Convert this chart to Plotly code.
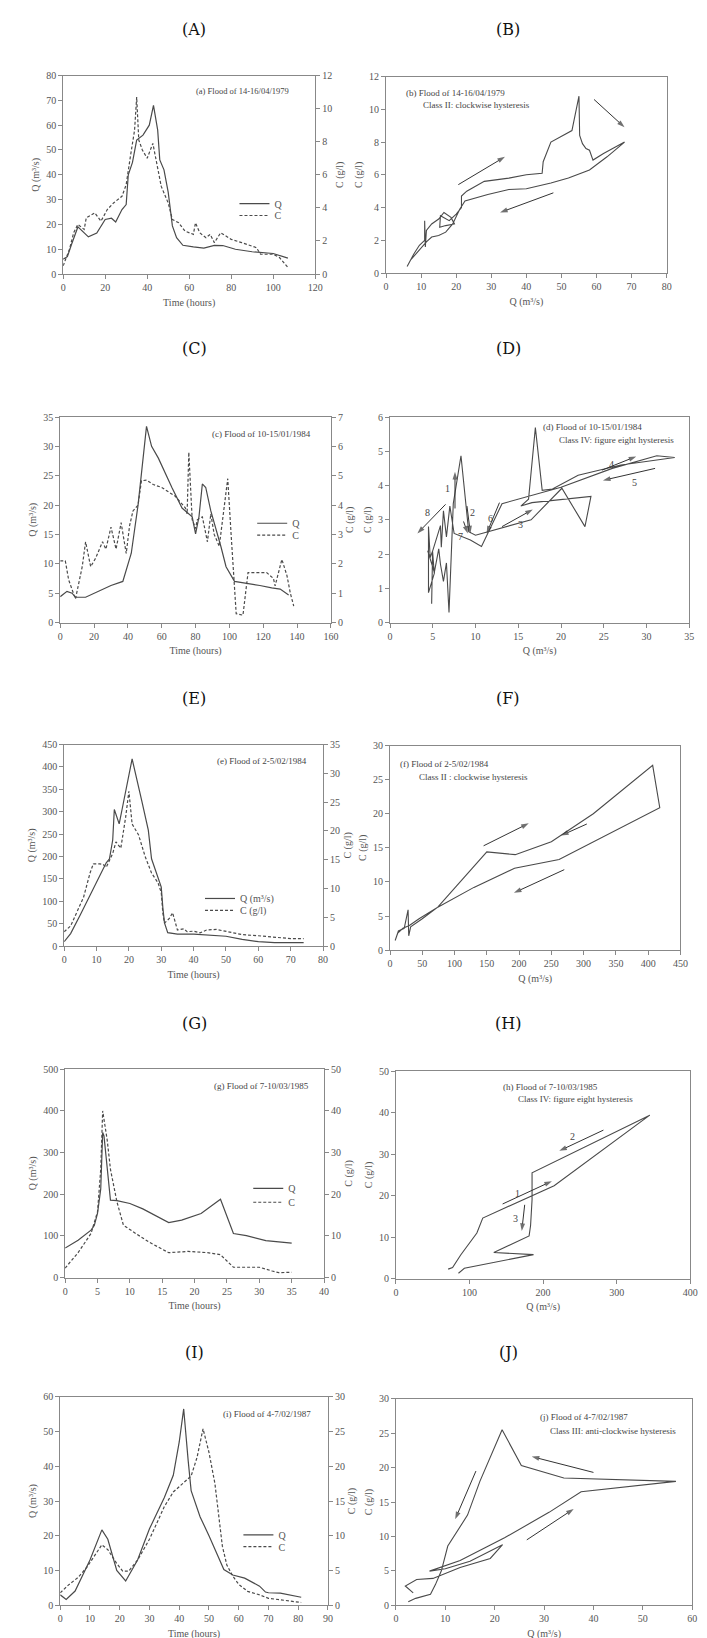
import plotly.graph_objects as go

W, H = 707, 1638
FONT = "Liberation Serif"
TXT = "#555555"
AX = "#888888"
LN = "#4a4a4a"

# ---------------- data ----------------
# (a) flood 14-16/04/1979 : time series
A_TQ = [0, 2, 4, 7, 12, 16, 20, 23, 25, 28, 30, 31, 33, 35, 38, 41, 43, 45, 46, 48, 50, 52, 54, 57, 62, 67, 72, 76, 82, 90, 100, 103, 107]
A_Q = [6, 7, 12, 19, 15, 16.5, 22, 22.5, 21, 26, 28, 40, 45, 54, 56, 60, 68, 58, 46, 42, 33, 19.4, 14.7, 11.6, 11, 10.5, 11.6, 11.5, 10, 9, 8.3, 7.5, 6.4]
A_TC = [0, 3, 5, 7, 10, 11, 15, 18, 21, 24, 28, 30, 32, 34, 35, 36, 37.7, 40, 42.7, 44.7, 46.7, 50, 52, 55, 58, 62, 63, 65, 68, 70, 72, 75, 80, 85, 92, 94, 100, 103, 107]
A_C = [0.5, 1.5, 2.5, 3.0, 2.7, 3.4, 3.7, 3.2, 3.9, 4.3, 4.7, 5.4, 7.1, 8.7, 10.7, 8.1, 7.5, 7.0, 7.9, 6.7, 5.3, 4.3, 3.3, 3.1, 2.6, 2.4, 3.1, 2.5, 2.2, 2.4, 1.9, 2.5, 2.1, 1.9, 1.6, 1.2, 1.2, 1.0, 0.4]
# (b) hysteresis 14-16/04/1979
B_Q = [6, 8, 9.5, 11, 11, 11.2, 11.5, 13, 15, 16.5, 18.5, 19.5, 17, 15.3, 15.5, 18, 20, 21.5, 21.5, 23, 28, 35, 40, 44.5, 44.8, 47, 53, 55, 55.2, 56, 57, 58, 59, 62, 68, 63, 58, 52, 47, 40, 35, 29, 22.5, 21, 19, 17, 15, 13, 11.5, 9, 7]
B_C = [0.4, 1.2, 1.7, 2.0, 3.2, 1.6, 2.6, 3.0, 3.3, 3.7, 3.4, 3.0, 2.9, 2.8, 3.5, 3.2, 3.6, 4.0, 4.7, 5.0, 5.6, 5.8, 6.0, 6.1, 6.8, 8.0, 8.7, 10.8, 8.4, 7.9, 7.6, 7.5, 6.9, 7.3, 8.0, 7.1, 6.3, 5.8, 5.5, 5.15, 5.1, 4.8, 4.4, 3.9, 3.0, 2.5, 2.3, 2.2, 1.9, 1.3, 0.8]
B_ARROWS = [(20.6, 5.4, 33.9, 7.1), (47.7, 4.9, 32.5, 3.7), (59.3, 10.6, 68.0, 8.9)]

# (c) flood 10-15/01/1984 : time series
C_TQ = [0, 4, 7, 9, 15, 20, 30, 37, 40, 42, 46, 51, 54, 58, 66, 72, 78, 80, 82, 84, 86, 89, 95, 98, 103, 110, 118, 125, 130, 135]
C_Q = [4.4, 5.3, 5.0, 4.3, 4.3, 5.0, 6.3, 7.0, 10, 11.8, 20, 33.4, 30, 28, 23, 19.5, 18, 15.1, 18, 23.6, 23, 19, 12.9, 9.5, 7, 6.7, 6.3, 5.9, 5.7, 4.7]
C_TC = [0, 3, 5, 9, 13, 15, 18, 21, 25, 27, 30, 33, 36, 38, 39, 41, 43, 46, 48, 51, 55, 60, 68, 74, 75, 76, 78, 80, 81, 84, 87, 89, 91, 94, 99, 101, 104, 108, 111, 122, 126, 127, 131, 134, 136, 138]
C_C = [2.1, 2.1, 1.45, 0.8, 1.9, 2.75, 1.9, 2.2, 2.75, 2.5, 3.25, 2.5, 3.4, 2.6, 2.35, 3.3, 3.8, 4.0, 4.83, 4.85, 4.7, 4.6, 4.3, 3.9, 3.7, 5.8, 3.5, 3.2, 3.5, 3.6, 2.75, 3.7, 3.0, 2.6, 4.9, 3.0, 0.3, 0.25, 1.7, 1.7, 1.5, 1.25, 2.15, 1.6, 1.0, 0.56]
# (d) hysteresis 10-15/01/1984
D_Q = [4.4, 5.2, 4.5, 4.5, 4.5, 4.7, 5.0, 5.9, 6.0, 6.25, 6.6, 7.0, 7.5, 9.4, 10.7, 13.1, 20.0, 26.0, 31.2, 33.3, 29.5, 27.0, 22.0, 19.0, 17.8, 17.0, 16.2, 15.3, 16.6, 23.5, 22.8, 20.1, 16.5, 10.0, 9.2, 8.3, 7.4, 6.9, 6.6, 6.25, 5.9, 5.7, 5.17, 4.98, 4.87]
D_C = [2.1, 1.45, 0.87, 1.9, 2.8, 1.9, 2.1, 2.83, 2.2, 3.26, 2.5, 3.4, 2.6, 2.41, 2.22, 3.47, 3.95, 4.5, 4.87, 4.82, 4.7, 4.6, 4.3, 3.9, 3.86, 5.69, 3.6, 3.4, 3.5, 3.68, 2.8, 3.92, 3.0, 2.55, 2.65, 4.87, 3.47, 0.29, 1.74, 1.2, 1.7, 2.15, 1.45, 2.07, 0.55]
D_ARROWS = [(7.6, 3.33, 7.6, 4.4), (9.0, 3.4, 9.4, 2.6), (13.1, 2.8, 16.7, 3.3), (24.8, 4.45, 28.8, 4.85),
            (31.0, 4.5, 24.9, 4.15), (12.8, 3.5, 11.3, 2.6), (8.6, 2.95, 9.1, 2.6), (6.5, 3.45, 3.2, 2.6)]
D_LABELS = [("1", 6.7, 3.9), ("2", 9.7, 3.2), ("3", 15.3, 2.85), ("4", 25.9, 4.62), ("5", 28.6, 4.1),
            ("6", 11.8, 3.05), ("7", 8.3, 2.5), ("8", 4.4, 3.2)]

# (e) flood 2-5/02/1984 : time series
E_TQ = [0, 2, 5, 8, 10, 13, 14, 15, 15.5, 17, 18, 21, 24, 26, 27, 30, 30.5, 31, 32, 35, 40, 45, 50, 55, 60, 65, 70, 74]
E_Q = [10, 28, 70, 114, 143, 186, 195, 237, 305, 273, 309, 418, 324, 259, 195, 132, 85, 52, 30, 27, 27, 25, 22, 15, 10, 8, 8, 8]
E_TC = [0, 2, 4, 6, 8, 9, 11, 12, 13, 15, 16, 17.5, 19, 20, 21, 23, 25, 27, 29, 30, 30.5, 31, 32.5, 33.5, 35, 37, 38, 40, 42, 44, 47, 50, 55, 60, 65, 70, 74]
E_C = [2.5, 3.5, 6, 8.5, 12.7, 14.3, 14.3, 14.2, 13.7, 16.1, 18.1, 17.0, 22.4, 26.9, 21.2, 19.3, 15.6, 12.7, 11, 9.3, 5.7, 4.0, 4.8, 5.8, 2.8, 3.0, 2.5, 2.6, 2.3, 2.8, 2.9, 2.6, 2.0, 1.8, 1.6, 1.3, 1.3]
# (f) hysteresis 2-5/02/1984
F_Q = [8, 13, 22, 28, 29, 32, 50, 74, 150, 194, 250, 315, 407, 418, 262, 193, 130, 74, 45, 30, 20, 12, 8]
F_C = [1.4, 2.8, 3.2, 5.9, 2.1, 3.4, 4.6, 6.3, 14.4, 14.0, 15.9, 20.0, 27.1, 20.9, 13.3, 12.0, 9.2, 6.3, 4.6, 3.6, 3.2, 2.5, 1.4]
F_ARROWS = [(145, 15.3, 215, 18.6), (305, 18.5, 265, 16.8), (270, 11.8, 192, 8.4)]

# (g) flood 7-10/03/1985 : time series
G_TQ = [0, 2, 4, 4.5, 5, 5.5, 5.8, 6, 7, 8, 10, 12, 16, 18, 21, 24, 26, 28, 31, 35]
G_Q = [71, 90, 114, 125, 154, 213, 348, 340, 186, 185, 178, 165, 132, 138, 154, 188, 106, 101, 89, 83]
G_TC = [0, 2, 4, 5, 5.5, 5.8, 6.5, 7, 8, 9, 11, 13, 16, 19, 22, 24, 26, 30, 32, 33, 35]
G_C = [2.3, 6, 10.6, 15.8, 26, 40, 33, 26, 18.2, 12.6, 10.5, 8.5, 6.0, 6.3, 6.0, 5.5, 2.5, 2.5, 1.6, 1.2, 1.3]
# (h) hysteresis 7-10/03/1985
H_Q = [71, 77, 88, 100, 110, 118, 215, 345, 185, 185, 183, 181, 133, 187, 110, 93, 85]
H_C = [2.3, 2.7, 5.7, 8.5, 11, 14.6, 22.4, 39.4, 25.5, 19, 12.8, 10.3, 6.3, 5.8, 3.0, 2.5, 1.3]
H_ARROWS = [(145, 18, 212, 23.5), (282, 35.8, 222, 30.8), (175, 17.8, 171, 11.5)]
H_LABELS = [("1", 165, 20.6), ("2", 240, 34.2), ("3", 163, 14.5)]

# (i) flood 4-7/02/1987 : time series
I_TQ = [0, 2, 5, 10, 14, 16, 19, 22, 26, 30, 35, 38, 40, 41.5, 43, 44, 47, 50, 55, 58, 62, 65, 67, 69, 70, 74, 81]
I_Q = [3.0, 1.7, 4.1, 13, 21.7, 19, 10, 7, 13, 22, 31, 37.4, 47, 56.5, 41.7, 33, 25.5, 20, 10.3, 8.7, 7.8, 6.5, 5.5, 3.8, 3.6, 3.5, 2.3]
I_TC = [0, 3, 6, 9, 14, 16, 19, 21, 23, 26, 30, 35, 38, 41, 44, 46, 48, 50, 52, 54.5, 56, 58, 60, 63, 67, 70, 74, 78, 81]
I_C = [1.8, 3.0, 4.0, 5.5, 8.7, 8.0, 6.0, 4.9, 4.9, 6.5, 9.5, 14.2, 16.3, 17.5, 18.6, 21.3, 25.4, 22, 17.5, 8.5, 5.8, 4.2, 3.0, 2.0, 1.5, 1.0, 0.8, 0.5, 0.4]
# (j) hysteresis 4-7/02/1987
J_Q = [3.5, 1.9, 4.2, 7.5, 13, 19.1, 21.6, 15, 10, 6.8, 13, 22, 31, 37.5, 56.7, 41.7, 34, 25.4, 21.5, 17, 14.5, 10.5, 9.2, 8.0, 7.0, 4.0, 2.5]
J_C = [1.8, 2.8, 3.75, 3.9, 5.5, 6.8, 8.8, 6.4, 5.3, 4.96, 6.5, 9.8, 13.5, 16.5, 18.0, 18.3, 18.5, 20.3, 25.5, 18.0, 13.1, 8.6, 5.0, 3.0, 1.6, 1.0, 0.5]
J_ARROWS = [(16.2, 19.5, 12.0, 12.5), (40.0, 19.3, 27.5, 21.6), (26.5, 9.5, 36.0, 14.0)]

HEADERS = ["(A)", "(B)", "(C)", "(D)", "(E)", "(F)", "(G)", "(H)", "(I)", "(J)"]

# ---------------- layout helpers ----------------
def px_x(x):
    return x / W

def px_y(y):
    return 1 - y / H

def ax_name(kind, n):
    return kind + "axis" + ("" if n == 1 else str(n))

def ref(kind, n):
    return kind + ("" if n == 1 else str(n))

QT = "Q (m\u00b3/s)"
CT = "C (g/l)"
TT = "Time (hours)"

layout = dict(width=W, height=H, margin=dict(l=0, r=0, t=0, b=0),
              paper_bgcolor="white", plot_bgcolor="white",
              font=dict(family=FONT, size=10, color=TXT), annotations=[])

common = dict(showline=True, linecolor=AX, linewidth=1, ticks="outside", ticklen=4,
              tickcolor=AX, tickwidth=1, showgrid=False, zeroline=False,
              tickfont=dict(family=FONT, size=10, color=TXT), tick0=0)

def axes(n, box, xr, xd, yr, yd, xt, yt, right=None):
    x0, x1, y0, y1 = box
    layout[ax_name("x", n)] = dict(domain=[px_x(x0), px_x(x1)], anchor=ref("y", n), range=xr, dtick=xd,
                                   mirror=True, title=dict(text=xt, standoff=6, font=dict(size=10, color=TXT)), **common)
    layout[ax_name("y", n)] = dict(domain=[px_y(y1), px_y(y0)], anchor=ref("x", n), range=yr, dtick=yd,
                                   mirror=(right is None), title=dict(text=yt, standoff=4, font=dict(size=10, color=TXT)), **common)
    if right:
        m, yr2, yd2, t2 = right
        layout[ax_name("y", m)] = dict(overlaying=ref("y", n), anchor=ref("x", n), side="right", range=yr2, dtick=yd2,
                                       title=dict(text=t2, standoff=4, font=dict(size=10, color=TXT)), **common)

BOX = {1: (53, 309, 62, 262), 2: (381, 666, 63, 261),
       3: (50, 325, 406, 613), 4: (385, 689, 406, 613),
       5: (54, 317, 736, 939), 6: (385, 680, 737, 943),
       7: (55, 318, 1063, 1273), 8: (391, 690, 1065, 1274),
       9: (50, 322, 1393, 1603), 10: (391, 692, 1395, 1603)}

axes(1, BOX[1], [0, 120], 20, [0, 80], 10, TT, QT, (11, [0, 12], 2, CT))
axes(2, BOX[2], [0, 80], 10, [0, 12], 2, QT, CT)
axes(3, BOX[3], [0, 160], 20, [0, 35], 5, TT, QT, (12, [0, 7], 1, CT))
axes(4, BOX[4], [0, 35], 5, [0, 6], 1, QT, CT)
axes(5, BOX[5], [0, 80], 10, [0, 450], 50, TT, QT, (13, [0, 35], 5, CT))
axes(6, BOX[6], [0, 450], 50, [0, 30], 5, QT, CT)
axes(7, BOX[7], [0, 40], 5, [0, 500], 100, TT, QT, (14, [0, 50], 10, CT))
axes(8, BOX[8], [0, 400], 100, [0, 50], 10, QT, CT)
axes(9, BOX[9], [0, 90], 10, [0, 60], 10, TT, QT, (15, [0, 30], 5, CT))
axes(10, BOX[10], [0, 60], 10, [0, 30], 5, QT, CT)

fig = go.Figure()
DASH = "3px,2px"

def legend_at(xp, yp):
    return dict(x=px_x(xp), y=px_y(yp), xanchor="left", yanchor="middle", bgcolor="rgba(0,0,0,0)",
                font=dict(family=FONT, size=10, color=TXT), tracegroupgap=0, itemwidth=30,
                itemclick=False, borderwidth=0)

# one small legend per legend entry, so the two entries sit as tightly as in the picture
LEG = {}
def leg_id(k):
    return "legend" if k == 1 else "legend%d" % k

def ts(n, m, tq, q, tc, c, lq, lc, qname, cname, lx, lyq, lyc):
    layout[leg_id(lq)] = legend_at(lx, lyq)
    layout[leg_id(lc)] = legend_at(lx, lyc)
    fig.add_trace(go.Scatter(x=tq, y=q, mode="lines", name=qname, line=dict(color=LN, width=1.2),
                             xaxis=ref("x", n), yaxis=ref("y", n), legend=leg_id(lq), showlegend=True))
    fig.add_trace(go.Scatter(x=tc, y=c, mode="lines", name=cname, line=dict(color=LN, width=1.2, dash=DASH),
                             xaxis=ref("x", n), yaxis=ref("y", m), legend=leg_id(lc), showlegend=True))

def hyst(n, q, c):
    fig.add_trace(go.Scatter(x=q, y=c, mode="lines", line=dict(color=LN, width=1.1),
                             xaxis=ref("x", n), yaxis=ref("y", n), showlegend=False))

def arrows(n, lst):
    for (x0, y0, x1, y1) in lst:
        fig.add_trace(go.Scatter(x=[x0, x1], y=[y0, y1], mode="lines+markers",
                                 line=dict(color="#333333", width=1.0),
                                 marker=dict(symbol="arrow", size=[0, 8], angleref="previous",
                                             color="#333333", line=dict(width=0)),
                                 xaxis=ref("x", n), yaxis=ref("y", n), showlegend=False, hoverinfo="skip"))

ts(1, 11, A_TQ, A_Q, A_TC, A_C, 1, 2, "Q", "C", 227, 191, 203)
hyst(2, B_Q, B_C)
ts(3, 12, C_TQ, C_Q, C_TC, C_C, 3, 4, "Q", "C", 245, 513, 525)
hyst(4, D_Q, D_C)
ts(5, 13, E_TQ, E_Q, E_TC, E_C, 5, 6, "Q (m\u00b3/s)", "C (g/l)", 192, 891, 903)
hyst(6, F_Q, F_C)
ts(7, 14, G_TQ, G_Q, G_TC, G_C, 7, 8, "Q", "C", 241, 1183, 1197)
hyst(8, H_Q, H_C)
ts(9, 15, I_TQ, I_Q, I_TC, I_C, 9, 10, "Q", "C", 231, 1532, 1544)
hyst(10, J_Q, J_C)

arrows(2, B_ARROWS)
arrows(4, D_ARROWS)
arrows(6, F_ARROWS)
arrows(8, H_ARROWS)
arrows(10, J_ARROWS)

ann = layout["annotations"]

def note(text, xp, yp, anchor, size=9):
    ann.append(dict(text=text, x=px_x(xp), y=px_y(yp), xref="paper", yref="paper", xanchor=anchor,
                    yanchor="middle", showarrow=False, font=dict(family=FONT, size=size, color="#444444")))

# headers
HX = [186, 505]
HY = [16, 337, 690, 1017, 1348]
for k, h in enumerate(HEADERS):
    ann.append(dict(text=h, x=px_x(HX[k % 2]), y=px_y(HY[k // 2]), xref="paper", yref="paper",
                    xanchor="center", yanchor="middle", showarrow=False,
                    font=dict(family="DejaVu Serif", size=16, color="#111111")))

# panel titles
note("(a) Flood of 14-16/04/1979", 284, 78, "right", 8.5)
note("(b) Flood of 14-16/04/1979", 399, 80, "left")
note("Class II: clockwise hysteresis", 416, 92, "left")
note("(c) Flood of 10-15/01/1984", 307, 423, "right")
note("(d) Flood of 10-15/01/1984", 538, 416, "left")
note("Class IV: figure eight hysteresis", 555, 429, "left")
note("(e) Flood of 2-5/02/1984", 303, 753, "right")
note("(f) Flood of 2-5/02/1984", 393, 756, "left")
note("Class II : clockwise hysteresis", 412, 769, "left")
note("(g) Flood of 7-10/03/1985", 305, 1080, "right")
note("(h) Flood of 7-10/03/1985", 498, 1081, "left")
note("Class IV: figure eight hysteresis", 513, 1093, "left")
note("(i) Flood of 4-7/02/1987", 307, 1410, "right")
note("(j) Flood of 4-7/02/1987", 535, 1413, "left")
note("Class III: anti-clockwise hysteresis", 545, 1427, "left")

def labels(n, lst):
    for (t, x, y) in lst:
        ann.append(dict(text=t, x=x, y=y, xref=ref("x", n), yref=ref("y", n), showarrow=False,
                        font=dict(family=FONT, size=10, color="#444444")))

labels(4, D_LABELS)
labels(8, H_LABELS)

fig.update_layout(**layout)
fig.write_html("out.html")
